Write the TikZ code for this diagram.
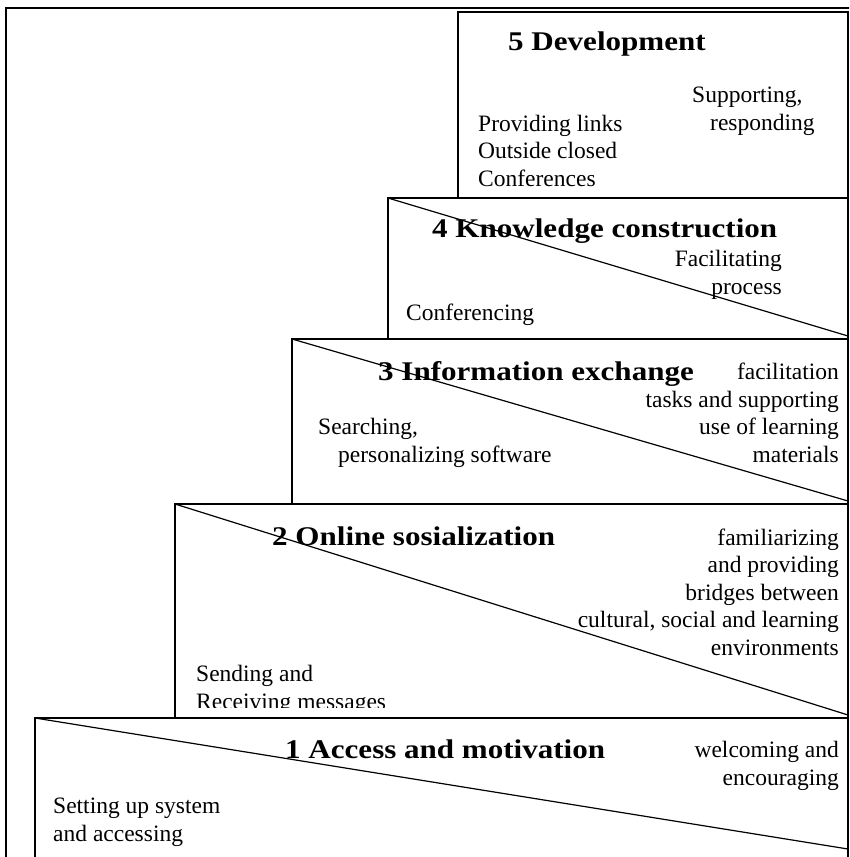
\documentclass[tikz,border=0pt]{standalone}
\usepackage{fontspec}
\setmainfont{Liberation Serif}
\newfontfamily\headfont[FakeStretch=1.15]{Liberation Serif}
\usetikzlibrary{positioning,calc}

\tikzset{
  stage/.style={draw=black, line width=1.5pt, fill=white},
  slope/.style={draw=black, line width=1.2pt},
  title/.style={inner sep=0pt, anchor=base west, font=\headfont\bfseries\fontsize{27}{32}\selectfont},
  note/.style={inner sep=0pt, font=\fontsize{23.5}{27.5}\selectfont},
}

\begin{document}
\begin{tikzpicture}[x=1pt, y=-1pt]
  \clip (0,0) rectangle (849,857);
  \fill[white] (0,0) rectangle (849,857);

  % outer frame
  \draw[line width=1.6pt] (6,900) -- (6,8) -- (900,8);

  % corners of the steps
  \coordinate (A) at (458,12);
  \coordinate (B) at (388,198);
  \coordinate (C) at (292,339);
  \coordinate (D) at (175,504);
  \coordinate (E) at (35,718);
  \coordinate (F) at (848,870);

  % steps
  \draw[stage] (A) rectangle (B -| F);
  \draw[stage] (B) rectangle (C -| F);
  \draw[stage] (C) rectangle (D -| F);
  \draw[stage] (D) rectangle (E -| F);
  \draw[stage] (E) rectangle (F);

  % diagonals
  \foreach \c/\b in {B/336,C/501,D/715,E/849} {
    \draw[slope] (\c) -- (848,\b);
  }

  % 5 (base = last line)
  \node[title] (dev) at (508,50) {5 Development};
  \node[note, anchor=base west, align=left] (devR) at (692,130) {Supporting,\\\hspace*{18pt}responding};
  \node[note, anchor=base west, align=left] (devL) at (478,186) {Providing links\\Outside closed\\Conferences};

  % 4
  \node[title] (know) at (432,237) {4 Knowledge construction};
  \node[note, anchor=base east, align=right] (knowR) at (782,294) {Facilitating\\process};
  \node[note, anchor=base west] (knowL) at (406,320) {Conferencing};

  % 3
  \node[title] (info) at (378,380) {3 Information exchange};
  \node[note, anchor=base east, align=right] (infoR) at (839,462) {facilitation\\tasks and supporting\\use of learning\hspace*{12pt}\\materials};
  \node[note, anchor=base west, align=left] (infoL) at (318,462) {Searching,\\\hspace*{20pt}personalizing software};

  % 2
  \node[title] (soc) at (272,545) {2 Online sosialization};
  \node[note, anchor=base east, align=right] (socR) at (839,655) {familiarizing\\and providing\\bridges between\\cultural, social and learning\\environments};
  \begin{scope}
    \clip (D) rectangle (848,707);
    \node[note, anchor=base west, align=left] (socL) at (196,709) {Sending and\\Receiving messages};
  \end{scope}

  % 1
  \node[title] (acc) at (285,758) {1 Access and motivation};
  \node[note, anchor=base east, align=right] (accR) at (839,785) {welcoming and\\encouraging};
  \node[note, anchor=base west, align=left] (accL) at (53,841) {Setting up system\\and accessing};

\end{tikzpicture}
\end{document}
